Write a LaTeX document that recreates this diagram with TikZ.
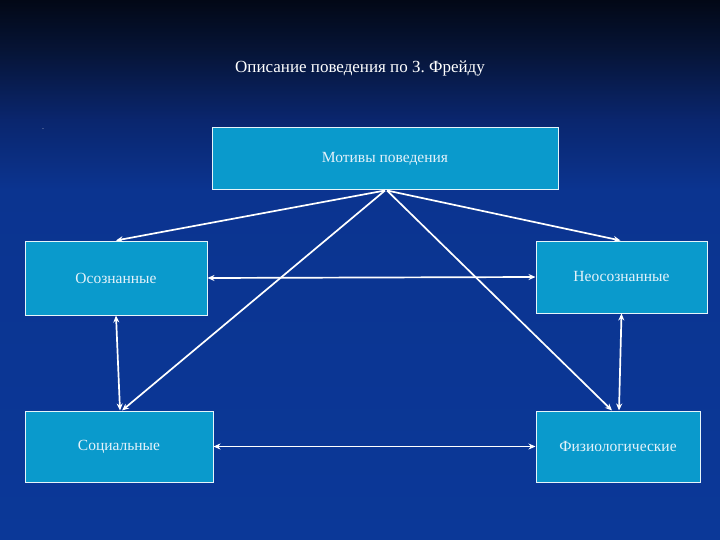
\documentclass[tikz,border=0pt]{standalone}
\usepackage{fontspec}
\setmainfont{Liberation Serif}
\usetikzlibrary{arrows.meta}
\definecolor{bgA}{RGB}{2,8,22}
\definecolor{bgB}{RGB}{6,20,54}
\definecolor{bgC}{RGB}{10,38,110}
\definecolor{bgD}{RGB}{11,52,144}
\definecolor{bgE}{RGB}{11,56,152}
\definecolor{boxfill}{RGB}{10,154,204}
\definecolor{boxtext}{RGB}{228,242,250}
\begin{document}
\begin{tikzpicture}[x=1pt,y=-1pt,
  box/.style={draw=white!90!boxfill, line width=1pt, fill=boxfill, text=boxtext,
    font=\fontsize{15.5}{17}\selectfont, inner sep=0pt},
  conn/.style={draw=white, line width=1.7pt},
  tip/.style={-{Stealth[length=7pt,width=6pt]}},
  tips/.style={{Stealth[length=7pt,width=6pt]}-{Stealth[length=7pt,width=6pt]}}]
\useasboundingbox (0,0) rectangle (720,540);
\shade[top color=bgA, bottom color=bgB] (0,0) rectangle (720,50);
\shade[top color=bgB, bottom color=bgC] (0,50) rectangle (720,120);
\shade[top color=bgC, bottom color=bgD] (0,120) rectangle (720,190);
\shade[top color=bgD, bottom color=bgE] (0,190) rectangle (720,540);
\node[text=white, font=\fontsize{17}{19}\selectfont] (title) at (360,69) {Описание поведения по З.\ Фрейду};
\node[text=white!70!bgC, font=\fontsize{8}{8}\selectfont, inner sep=0pt] (dot) at (43,129) {.};
\node[box, minimum width=346pt, minimum height=62pt] (mot) at (385,159) {Мотивы поведения};
\node[box, minimum width=182pt, minimum height=74pt] (osoz) at (116,278) {Осознанные};
\node[box, minimum width=171pt, minimum height=72pt] (neo) at (621.5,277) {Неосознанные};
\node[box, minimum width=188pt, minimum height=71pt] (soc) at (119,446.5) {Социальные};
\node[box, minimum width=164pt, minimum height=71pt] (phys) at (618,446.5) {Физиологические};
\draw[conn,tip] (mot.south) -- (osoz.north);
\draw[conn,tip] ([xshift=2pt]mot.south) -- ([xshift=-1pt]neo.north);
\draw[conn,tip] (mot.south) -- ([xshift=3pt]soc.north);
\draw[conn,tip] ([xshift=2pt]mot.south) -- ([xshift=-6pt]phys.north);
\draw[conn,tips] (osoz.east) -- (neo.west);
\draw[conn,tips] (soc.east) -- (phys.west);
\draw[conn,tips] (osoz.south) -- ([xshift=1pt]soc.north);
\draw[conn,tips] (neo.south) -- ([xshift=1pt]phys.north);
\end{tikzpicture}
\end{document}
